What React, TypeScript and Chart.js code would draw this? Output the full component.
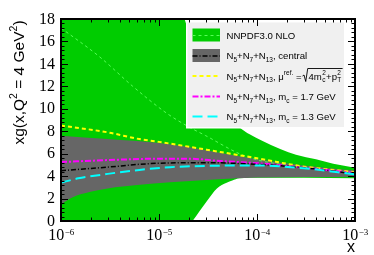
import React, { useEffect, useRef } from 'react';
import { Chart, registerables } from 'chart.js';

Chart.register(...registerables);

// ---------------- data ----------------
const nnpdfUpperX = [1e-6, 1e-5, 1.5e-5, 1.9e-5, 2.5e-5, 3.5e-5, 5e-5, 6.5e-5, 8.5e-5, 1.1e-4, 1.75e-4, 2.5e-4, 4e-4, 6e-4, 1e-3];
const nnpdfUpperY = [40, 28, 20.5, 17.5, 14, 11.3, 9.5, 8.4, 7.7, 7.2, 6.4, 5.9, 5.5, 5.1, 4.75];
const nnpdfLowerX = [1e-6, 1e-5, 2.2e-5, 3.1e-5, 3.9e-5, 4.9e-5, 5.6e-5, 6.6e-5, 1.07e-4, 3e-4, 1e-3];
const nnpdfLowerY = [-10, -4, 0, 1.8, 2.9, 3.4, 3.6, 3.8, 3.85, 3.85, 3.82];
const nnpdfCentralX = [1e-6, 2.5e-6, 5.4e-6, 1.2e-5, 2e-5, 3e-5, 6.6e-5, 1e-4, 3e-4, 1e-3];
const nnpdfCentralY = [17.2, 14.6, 12.0, 9.6, 8.4, 7.6, 6.0, 5.45, 4.8, 4.3];

const bandUpperX = [1e-6, 3e-6, 1e-5, 2e-5, 4e-5, 1e-4, 3e-4, 1e-3];
const bandUpperY = [7.6, 7.3, 6.95, 6.6, 6.1, 5.5, 4.95, 4.5];
const bandLowerX = [1e-6, 1.3e-6, 2e-6, 3e-6, 6e-6, 1.3e-5, 4e-5, 1e-4, 1e-3];
const bandLowerY = [1.5, 2.1, 2.6, 2.9, 3.2, 3.45, 3.72, 3.87, 3.95];

const centralX = [1e-6, 3e-6, 6.3e-6, 1e-5, 3e-5, 1e-4, 3e-4, 1e-3];
const centralY = [4.48, 4.8, 5.05, 5.15, 5.2, 5.05, 4.75, 4.2];
const muRefX = [1e-6, 3e-6, 6.3e-6, 1e-5, 4.2e-5, 1.07e-4, 2.75e-4, 1e-3];
const muRefY = [8.5, 7.9, 7.3, 7.05, 6.15, 5.55, 4.9, 4.35];
const mc17X = [1e-6, 3e-6, 1e-5, 2e-5, 4.2e-5, 1.07e-4, 3e-4, 1e-3];
const mc17Y = [5.25, 5.43, 5.55, 5.55, 5.35, 5.13, 4.75, 4.28];
const mc13X = [1e-6, 1.5e-6, 3e-6, 6.3e-6, 1.3e-5, 4e-5, 1e-4, 3e-4, 1e-3];
const mc13Y = [3.42, 3.8, 4.2, 4.55, 4.8, 4.93, 4.95, 4.7, 4.15];

const yTickValues = [0, 2, 4, 6, 8, 10, 12, 14, 16, 18];
const xTickValues = [1e-6, 1e-5, 1e-4, 1e-3];
const xTickExponents = ['\u22126', '\u22125', '\u22124', '\u22123'];

// ---------------- styles ----------------
const SERIF = '"Liberation Serif", "Times New Roman", serif';
const SANS = '"Liberation Sans", Arial, sans-serif';
const GREEN = '#00cc00';
const GREEN_LINE = '#55ff55';
const GRAY = '#666666';

type Seg = [string, number]; // 0 normal, 1 sub, 2 sup, 3 stacked "sup|sub"

function drawRich(ctx: CanvasRenderingContext2D, segs: Seg[], x: number, y: number, size: number, family: string, draw = true): number {
  let cx = x;
  const small = size * 0.68;
  for (const [t, k] of segs) {
    if (k === 0) {
      ctx.font = `${size}px ${family}`;
      if (draw) ctx.fillText(t, cx, y);
      cx += ctx.measureText(t).width;
    } else if (k === 1) {
      ctx.font = `${small}px ${family}`;
      if (draw) ctx.fillText(t, cx, y + size * 0.3);
      cx += ctx.measureText(t).width;
    } else if (k === 2) {
      ctx.font = `${small}px ${family}`;
      if (draw) ctx.fillText(t, cx, y - size * 0.42);
      cx += ctx.measureText(t).width;
    } else {
      const [sp, sb] = t.split('|');
      ctx.font = `${small}px ${family}`;
      if (draw) {
        ctx.fillText(sp, cx + 0.3, y - size * 0.42);
        ctx.fillText(sb, cx + 0.3, y + size * 0.3);
      }
      cx += Math.max(ctx.measureText(sp).width, ctx.measureText(sb).width) + 0.6;
    }
  }
  return cx;
}

const prefix: Seg[] = [['N', 0], ['5', 1], ['+N', 0], ['7', 1], ['+N', 0], ['13', 1], [', ', 0]];

function drawLegend(ctx: CanvasRenderingContext2D) {
  const L = 187.5, T = 22.5, R = 344, B = 127;
  ctx.fillStyle = '#ffffff';
  ctx.fillRect(L - 1.5, T - 1.5, R - L + 3, B - T + 3);
  ctx.fillStyle = '#f0f0f0';
  ctx.fillRect(L, T, R - L, B - T);

  const rows = [35, 55.5, 76, 96.5, 116.5];
  const sx0 = 192.5, sx1 = 220;
  const tx = 226.5;
  const fs = 9.6;

  // row 1: NNPDF band
  ctx.fillStyle = GREEN;
  ctx.fillRect(sx0, rows[0] - 6.5, sx1 - sx0, 13);
  ctx.strokeStyle = GREEN_LINE; ctx.lineWidth = 1; ctx.setLineDash([3, 3]);
  ctx.beginPath(); ctx.moveTo(sx0, rows[0] + 0.5); ctx.lineTo(sx1, rows[0] + 0.5); ctx.stroke();
  // row 2: central band
  ctx.fillStyle = GRAY;
  ctx.fillRect(sx0, rows[1] - 6.5, sx1 - sx0, 13);
  ctx.strokeStyle = '#000'; ctx.lineWidth = 1.5; ctx.setLineDash([5, 2, 1, 2]);
  ctx.beginPath(); ctx.moveTo(sx0, rows[1] + 0.5); ctx.lineTo(sx1, rows[1] + 0.5); ctx.stroke();
  // rows 3..5 lines
  const lines: [string, number[]][] = [['#ffff00', [4, 3]], ['#ff00ff', [6, 2, 2, 2]], ['#00ffff', [10, 5]]];
  lines.forEach(([c, d], i) => {
    ctx.strokeStyle = c; ctx.lineWidth = 2; ctx.setLineDash(d);
    ctx.beginPath(); ctx.moveTo(sx0, rows[i + 2]); ctx.lineTo(sx1, rows[i + 2]); ctx.stroke();
  });
  ctx.setLineDash([]);

  ctx.fillStyle = '#000';
  ctx.textAlign = 'left';
  ctx.textBaseline = 'alphabetic';
  const base = (r: number) => rows[r] + 3.5;
  drawRich(ctx, [['NNPDF3.0 NLO', 0]], tx, base(0), fs, SANS);
  drawRich(ctx, [...prefix, ['central', 0]], tx, base(1), fs, SANS);
  // row 3 with square root
  const b3 = base(2);
  const cx = drawRich(ctx, [...prefix, ['\u03bc', 0], ['ref.', 2], [' =', 0]], tx, b3, fs, SANS);
  const r0 = cx + 1;
  const inner: Seg[] = [['4m', 0], ['2|c', 3], ['+p', 0], ['2|T', 3]];
  const end = drawRich(ctx, inner, r0 + 6, b3, fs, SANS);
  ctx.strokeStyle = '#000'; ctx.lineWidth = 0.9;
  ctx.beginPath();
  ctx.moveTo(r0, b3 - 3.5);
  ctx.lineTo(r0 + 1.5, b3 - 4.5);
  ctx.lineTo(r0 + 3.2, b3 + 2);
  ctx.lineTo(r0 + 5.2, b3 - 11);
  ctx.lineTo(end + 1, b3 - 11);
  ctx.stroke();
  drawRich(ctx, [...prefix, ['m', 0], ['c', 1], [' = 1.7 GeV', 0]], tx, base(3), fs, SANS);
  drawRich(ctx, [...prefix, ['m', 0], ['c', 1], [' = 1.3 GeV', 0]], tx, base(4), fs, SANS);
}

const decorPlugin = {
  id: 'decor',
  afterDraw(chart: any) {
    const ctx: CanvasRenderingContext2D = chart.ctx;
    const a = chart.chartArea;
    const xs = chart.scales.x;
    const ys = chart.scales.y;
    ctx.save();
    drawLegend(ctx);

    // inward ticks on all four sides
    ctx.strokeStyle = '#000';
    ctx.lineWidth = 1;
    ctx.setLineDash([]);
    ctx.beginPath();
    for (let i = 0; i <= 45; i++) {
      const v = i * 0.4;
      const py = Math.round(ys.getPixelForValue(v)) + 0.5;
      const len = i % 5 === 0 ? 7 : 3.5;
      ctx.moveTo(a.left, py); ctx.lineTo(a.left + len, py);
      ctx.moveTo(a.right, py); ctx.lineTo(a.right - len, py);
    }
    for (let d = -6; d <= -3; d++) {
      for (let m = 1; m <= 9; m++) {
        if (d === -3 && m > 1) break;
        const v = m * Math.pow(10, d);
        const px = Math.round(xs.getPixelForValue(v)) + 0.5;
        const len = m === 1 ? 7 : 3.5;
        ctx.moveTo(px, a.bottom); ctx.lineTo(px, a.bottom - len);
        ctx.moveTo(px, a.top); ctx.lineTo(px, a.top + len);
      }
    }
    ctx.stroke();

    // frame
    ctx.lineWidth = 2;
    ctx.strokeRect(a.left, a.top, a.right - a.left, a.bottom - a.top);

    // y tick labels
    ctx.fillStyle = '#000';
    ctx.font = `16px ${SERIF}`;
    ctx.textAlign = 'right';
    ctx.textBaseline = 'middle';
    yTickValues.forEach(v => ctx.fillText(String(v), a.left - 6, ys.getPixelForValue(v) + 0.5));

    // x tick labels 10^n
    ctx.textAlign = 'left';
    ctx.textBaseline = 'alphabetic';
    xTickValues.forEach((v, i) => {
      const px = xs.getPixelForValue(v);
      ctx.font = `16px ${SERIF}`;
      const w1 = ctx.measureText('10').width;
      ctx.font = `9px ${SERIF}`;
      const w2 = ctx.measureText(xTickExponents[i]).width;
      const x0 = px - (w1 + w2) / 2;
      ctx.font = `16px ${SERIF}`;
      ctx.fillText('10', x0, 240);
      ctx.font = `9px ${SERIF}`;
      ctx.fillText(xTickExponents[i], x0 + w1 + 0.5, 234.5);
    });

    // x title
    ctx.font = `16px ${SANS}`;
    ctx.textAlign = 'right';
    ctx.fillText('x', a.right, 252);

    // y title (rotated)
    ctx.save();
    ctx.translate(24, 82.5);
    ctx.rotate(-Math.PI / 2);
    ctx.textAlign = 'left';
    const ySegs: Seg[] = [['xg(x,Q', 0], ['2', 2], [' = 4 GeV', 0], ['2', 2], [')', 0]];
    const w = drawRich(ctx, ySegs, 0, 0, 15.5, SANS, false);
    drawRich(ctx, ySegs, -w / 2, 0, 15.5, SANS, true);
    ctx.restore();

    ctx.restore();
  },
};

const pts = (xs: number[], ys: number[]) => xs.map((x, i) => ({ x, y: ys[i] }));

export default function App() {
  const ref = useRef<HTMLCanvasElement>(null);
  useEffect(() => {
    const canvas = ref.current as HTMLCanvasElement;
    const common = { pointRadius: 0, cubicInterpolationMode: 'monotone' as const };
    const chart = new Chart(canvas, {
      type: 'line',
      data: {
        datasets: [
          { ...common, data: pts(nnpdfUpperX, nnpdfUpperY), borderWidth: 0, borderColor: 'rgba(0,0,0,0)', backgroundColor: GREEN, fill: '+1', order: 10 },
          { ...common, data: pts(nnpdfLowerX, nnpdfLowerY), borderWidth: 0, borderColor: 'rgba(0,0,0,0)', fill: false, order: 10 },
          { ...common, data: pts(bandUpperX, bandUpperY), borderWidth: 0, borderColor: 'rgba(0,0,0,0)', backgroundColor: GRAY, fill: '+1', order: 8 },
          { ...common, data: pts(bandLowerX, bandLowerY), borderWidth: 0, borderColor: 'rgba(0,0,0,0)', fill: false, order: 8 },
          { ...common, data: pts(nnpdfCentralX, nnpdfCentralY), borderWidth: 1, borderColor: GREEN_LINE, borderDash: [3, 3], fill: false, order: 6 },
          { ...common, data: pts(muRefX, muRefY), borderWidth: 2, borderColor: '#ffff00', borderDash: [4, 3], fill: false, order: 5 },
          { ...common, data: pts(mc17X, mc17Y), borderWidth: 2, borderColor: '#ff00ff', borderDash: [6, 2, 2, 2], fill: false, order: 4 },
          { ...common, data: pts(centralX, centralY), borderWidth: 1.5, borderColor: '#000000', borderDash: [5, 2, 1, 2], fill: false, order: 3 },
          { ...common, data: pts(mc13X, mc13Y), borderWidth: 2, borderColor: '#00ffff', borderDash: [10, 5], fill: false, order: 2 },
        ],
      },
      options: {
        responsive: false,
        animation: false,
        events: [],
        layout: { padding: { left: 61, right: 19, top: 19, bottom: 34 } },
        plugins: { legend: { display: false }, tooltip: { enabled: false }, title: { display: false } },
        scales: {
          x: { type: 'logarithmic', min: 1e-6, max: 1e-3, display: false },
          y: { type: 'linear', min: 0, max: 18, display: false },
        },
      },
      plugins: [decorPlugin],
    } as any);
    return () => chart.destroy();
  }, []);
  return (
    <div style={{ position: 'absolute', left: 0, top: 0, width: 374, height: 255, background: '#ffffff' }}>
      <canvas ref={ref} width={374} height={255} style={{ display: 'block', width: 374, height: 255 }} />
    </div>
  );
}
